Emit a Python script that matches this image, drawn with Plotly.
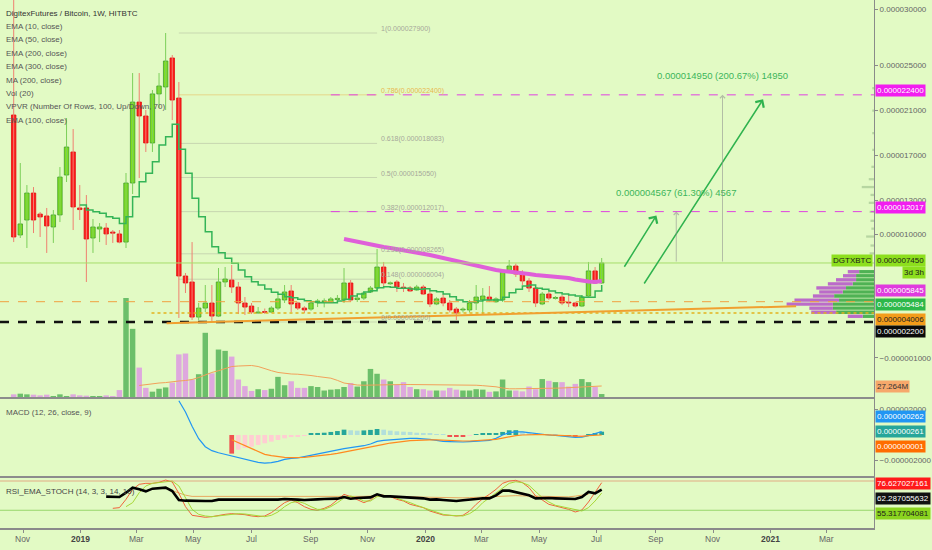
import pandas as pd
import plotly.graph_objects as go

FONT = "Liberation Sans, Arial, sans-serif"
BG = "#e2fac4"

# weekly DGTX/BTC bars, prices in units of 1e-6 BTC
weeks = pd.date_range("2018-10-22", periods=90, freq="7D")

open_ = [20.61, 9.94, 11.27, 13.67, 11.80, 11.63, 10.65, 11.72, 15.27, 17.32,
         12.34, 12.34, 9.67, 10.47, 10.56, 10.20, 10.03, 9.31, 14.56, 21.76,
         20.52, 18.12, 22.48, 23.10, 25.68, 22.12, 6.29, 5.76, 2.64, 3.44,
         3.89, 2.73, 5.76, 5.93, 5.31, 3.89, 3.62, 3.00, 3.09, 3.09,
         3.44, 4.16, 4.96, 3.89, 3.44, 3.35, 3.92, 4.00, 3.98, 4.20,
         4.16, 5.67, 4.20, 4.33, 4.87, 5.22, 7.09, 5.60, 5.76, 5.30,
         5.22, 5.05, 5.31, 4.69, 3.80, 4.33, 3.89, 3.35, 3.27, 3.27,
         3.89, 4.16, 4.42, 4.00, 4.16, 6.65, 7.18, 6.56, 5.85, 5.22,
         3.80, 4.69, 4.30, 4.42, 3.95, 3.89, 3.62, 4.51, 6.74, 5.67]
high = [31.50, 16.34, 14.38, 14.20, 11.98, 12.34, 12.16, 15.98, 20.34, 19.36,
        14.38, 13.49, 11.36, 11.00, 11.00, 10.38, 10.38, 15.45, 24.34, 24.34,
        21.05, 22.83, 24.34, 27.90, 25.94, 23.54, 6.56, 9.31, 3.89, 5.49,
        5.49, 7.00, 7.09, 7.27, 5.76, 4.42, 3.89, 3.53, 3.40, 3.60,
        4.60, 5.49, 5.49, 4.00, 3.60, 4.07, 4.25, 4.30, 4.42, 4.60,
        7.00, 5.93, 4.60, 4.90, 5.40, 8.69, 7.54, 5.80, 5.93, 5.67,
        5.40, 5.50, 5.50, 4.96, 4.40, 4.70, 4.16, 3.53, 3.50, 4.16,
        5.49, 5.22, 5.40, 4.40, 6.82, 7.71, 7.40, 6.80, 6.10, 5.31,
        4.87, 4.87, 4.50, 4.60, 4.60, 4.00, 4.60, 7.54, 7.09, 7.89]
low = [9.31, 9.67, 8.78, 10.11, 9.76, 8.34, 9.23, 11.09, 14.65, 10.38,
       11.27, 5.76, 8.34, 9.31, 9.05, 9.23, 9.20, 8.78, 13.58, 15.00,
       17.32, 17.32, 21.23, 21.05, 20.16, 2.56, 4.78, 2.38, 2.38, 3.09,
       2.20, 2.64, 5.31, 4.78, 2.91, 2.82, 2.91, 2.95, 2.92, 3.00,
       3.27, 3.89, 3.09, 3.27, 3.00, 3.20, 3.53, 3.50, 3.89, 4.00,
       3.89, 3.98, 3.98, 4.16, 4.78, 5.05, 5.31, 5.50, 4.87, 4.87,
       4.87, 4.96, 4.60, 3.53, 3.70, 3.60, 3.05, 2.38, 3.05, 3.05,
       3.27, 2.82, 4.00, 3.90, 3.98, 6.56, 6.20, 5.49, 4.87, 3.53,
       3.70, 4.16, 4.20, 3.70, 3.53, 3.50, 3.53, 4.42, 5.60, 5.60]
close = [9.76, 10.92, 13.67, 11.27, 11.54, 10.74, 11.72, 15.09, 17.76, 12.43,
         12.20, 9.58, 10.65, 10.65, 10.03, 10.10, 9.31, 14.56, 21.76, 20.52,
         18.12, 22.48, 23.19, 25.41, 21.94, 6.29, 5.67, 2.64, 3.44, 3.89,
         2.73, 5.76, 6.02, 5.31, 3.89, 3.53, 3.09, 3.09, 3.05, 3.44,
         4.25, 4.87, 3.80, 3.44, 3.27, 3.89, 4.07, 4.07, 4.25, 4.30,
         5.67, 4.16, 4.33, 4.78, 5.22, 7.09, 5.67, 5.67, 5.31, 5.22,
         4.96, 5.31, 4.69, 3.80, 4.25, 3.89, 3.27, 3.00, 3.30, 3.89,
         4.42, 4.51, 4.16, 4.25, 6.65, 7.18, 6.47, 5.85, 5.22, 3.89,
         4.69, 4.33, 4.36, 3.89, 3.89, 3.62, 4.42, 6.74, 5.67, 7.45]

# volume in millions, and its 20-bar average (starts at bar 20)
volume = [8.3, 9.8, 8.3, 7.6, 6.0, 7.6, 4.5, 8.3, 4.5, 8.3,
          6.0, 5.3, 4.5, 4.5, 6.0, 2.3, 18, 227, 157, 69,
          23, 14.4, 21, 24, 35, 99, 101, 42, 54, 148,
          56, 110, 107, 94, 42, 27, 16, 20, 18, 21,
          48, 29, 38, 23, 23, 27, 25, 17, 19, 20,
          25, 34, 26, 38, 66, 55, 42, 38, 30, 36,
          25, 20, 20, 17, 17, 17, 23, 19, 17, 17,
          20, 19, 14, 15, 42, 17, 17, 15, 26, 20,
          43, 39, 36, 36, 26, 32, 43, 36, 25, 9]
vol_ma = [28.4, 30.6, 33, 34, 35, 37.5, 38.6, 39.7, 42, 46.5,
          53, 58, 62, 67, 71.5, 72.6, 73.8, 73.8, 71.5, 66,
          62, 58, 55.6, 54.5, 54, 53, 51, 48.8, 47, 45,
          40, 34, 31.8, 29.5, 29, 29.5, 29.5, 30.6, 30.6, 30.6,
          30.6, 30.6, 30.6, 30.6, 30.6, 30.6, 30.6, 30.6, 30.6, 30.4,
          30, 29, 28, 27, 25.4, 22.7, 20.9, 20.9, 20.9, 20.9,
          21.3, 21.8, 22, 22.3, 22.7, 23.2, 24, 24.5, 25.4, 26.3, 27.26]

# green step EMA (from bar 11) and pink MA (from bar 51)
ema_step = [12.60, 12.16, 12.01, 11.87, 11.56, 11.42, 10.97, 11.56, 13.34, 14.68,
            15.42, 16.46, 17.94, 18.68, 19.78, 17.56, 15.42, 13.20, 11.56, 10.23,
            8.90, 8.36, 7.86, 7.42, 6.82, 6.23, 5.78, 5.49, 5.13, 4.84,
            4.66, 4.45, 4.36, 4.22, 4.09, 4.01, 3.92, 3.92, 3.92, 4.07,
            4.22, 4.51, 4.69, 4.87, 4.98, 5.25, 5.34, 5.29, 5.20, 5.20,
            5.13, 5.11, 5.16, 4.98, 4.89, 4.69, 4.45, 4.16, 4.01, 3.98,
            4.07, 4.16, 4.16, 4.16, 4.40, 4.81, 5.11, 5.40, 5.49, 5.20,
            5.11, 4.96, 4.81, 4.69, 4.60, 4.51, 4.40, 4.40, 4.96, 5.48]
ma_pink = [9.58, 9.45, 9.31, 9.18, 9.09, 9.00, 8.87, 8.78, 8.69, 8.60,
           8.51, 8.42, 8.29, 8.16, 8.03, 7.89, 7.76, 7.62, 7.49, 7.36,
           7.22, 7.09, 6.96, 6.82, 6.74, 6.65, 6.56, 6.51, 6.47, 6.38,
           6.34, 6.29, 6.25, 6.20, 6.11, 5.98, 5.85, 5.80, 5.76, 5.85]

# MACD (from bar 26), signal and histogram (from bar 34)
macd = [2.69, 1.80, 0.68, -0.29, -0.92, -1.23, -1.39, -1.52, -1.65, -1.78,
        -1.91, -2.04, -2.14, -2.20, -2.17, -2.07, -1.91, -1.83, -1.80, -1.70,
        -1.59, -1.49, -1.39, -1.28, -1.20, -1.07, -0.99, -0.92, -0.84, -0.71,
        -0.50, -0.42, -0.37, -0.31, -0.29, -0.26, -0.26, -0.29, -0.34, -0.42,
        -0.50, -0.52, -0.55, -0.55, -0.52, -0.50, -0.47, -0.42, -0.26, 0.00,
        0.18, 0.24, 0.24, 0.18, 0.08, 0.03, 0.00, -0.03, -0.08, -0.13,
        -0.18, -0.16, -0.05, 0.12, 0.26]
signal = [-0.37, -0.60, -0.86, -1.12, -1.33, -1.52, -1.62, -1.70, -1.75, -1.78,
          -1.78, -1.75, -1.70, -1.65, -1.59, -1.52, -1.44, -1.33, -1.23, -1.15,
          -1.05, -0.94, -0.84, -0.73, -0.63, -0.55, -0.50, -0.44, -0.42, -0.39,
          -0.39, -0.39, -0.42, -0.44, -0.47, -0.47, -0.47, -0.44, -0.42, -0.39,
          -0.34, -0.24, -0.13, -0.05, 0.00, 0.03, 0.03, 0.03, 0.00, -0.03,
          -0.05, -0.08, -0.10, -0.10, -0.05, -0.03, 0.00]
hist = [-1.46, -1.15, -1.02, -0.92, -0.78, -0.65, -0.52, -0.39, -0.26, -0.16,
        -0.08, -0.03, 0.13, 0.16, 0.18, 0.24, 0.31, 0.42, 0.37, 0.34,
        0.36, 0.40, 0.47, 0.42, 0.34, 0.29, 0.26, 0.24, 0.18, 0.16,
        0.10, 0.05, 0.03, -0.08, -0.10, -0.11, -0.03, 0.02, 0.08, 0.09,
        0.12, 0.24, 0.37, 0.38, 0.26, 0.16, 0.10, 0.05, 0.03, 0.01,
        -0.03, -0.05, -0.08, -0.03, 0.05, 0.10, 0.26]

# RSI_EMA_STOCH pane
rsi_line = [47.9, 47.9, 47.2, 56.1, 66.3, 62.9, 58.8, 64.3, 65.0, 66.3,
            59.5, 41.1, 39.7, 39.0, 39.0, 39.0, 39.0, 41.8, 41.8, 41.8,
            41.8, 41.1, 40.4, 40.4, 40.4, 41.1, 41.8, 43.1, 41.8, 41.8,
            41.1, 42.4, 42.4, 43.1, 43.8, 43.8, 47.2, 43.8, 45.2, 45.2,
            46.5, 52.7, 48.6, 48.6, 47.9, 47.2, 46.5, 45.9, 44.5, 41.8,
            42.4, 41.1, 39.7, 39.0, 40.4, 42.4, 43.1, 44.5, 44.5, 50.6,
            60.2, 60.2, 57.5, 54.7, 50.6, 44.5, 45.2, 45.2, 44.5, 44.5,
            43.1, 43.1, 47.2, 57.5, 54.7, 62.3]
stoch_k = [24.0, 25.4, 42.4, 62.9, 73.2, 75.2, 75.2, 77.3, 82.0, 78.0,
           54.7, 27.4, 9.7, 6.9, 5.6, 6.9, 9.7, 11.7, 13.1, 12.4,
           11.0, 8.3, 6.9, 8.3, 15.1, 25.4, 35.6, 41.1, 35.6, 27.4,
           21.9, 19.9, 24.0, 30.2, 41.1, 52.7, 47.9, 41.1, 35.6, 41.1,
           52.7, 50.6, 47.9, 42.4, 39.0, 32.2, 28.8, 25.4, 18.5, 13.8,
           10.3, 9.7, 8.3, 9.7, 18.5, 32.2, 43.8, 52.7, 62.9, 75.2,
           80.0, 81.4, 76.6, 66.4, 49.3, 41.1, 32.2, 28.8, 25.4, 21.9,
           16.5, 20.6, 37.0, 57.5, 76.6]
stoch_d = [27.4, 35.6, 56.1, 69.8, 75.2, 76.6, 78.0, 80.0, 69.8, 45.9,
           21.9, 11.7, 8.3, 6.9, 8.3, 10.3, 11.7, 13.1, 12.4, 10.3,
           8.3, 6.9, 9.7, 16.5, 27.4, 35.6, 38.3, 34.2, 27.4, 21.9,
           21.9, 27.4, 35.6, 45.2, 49.3, 45.2, 39.0, 39.0, 47.9, 50.6,
           49.3, 45.2, 41.1, 35.6, 30.2, 25.4, 21.9, 16.5, 11.7, 9.7,
           8.3, 8.3, 13.1, 21.9, 35.6, 45.9, 56.1, 66.3, 75.2, 78.6,
           76.6, 71.1, 59.5, 45.9, 37.0, 30.2, 27.4, 24.7, 20.6, 18.5,
           25.4, 39.0, 55.3]
rsi_avg = [60, 55, 51, 48.5, 48.5, 48, 48, 47.5, 47.5, 47.5,
           47.5, 47, 47, 47, 47, 47, 47.5, 47.5, 47.5, 47.5,
           47.5, 47.5, 47.5, 47.5, 47.5, 48, 48, 48, 48, 48.5,
           49, 49, 49, 49, 48.5, 48.5, 48, 47.5, 47, 46.5,
           46, 45.5, 45.5, 45.5, 45.5, 46, 46.5, 47, 48, 49.5,
           50, 50, 50, 49.5, 49, 48.5, 48, 47.5, 47, 47,
           47.5, 49, 51, 52.8]

# visible range volume profile rows (price, up vol, down vol)
vp_price = [6.67, 6.31, 5.95, 5.59, 5.23, 4.87, 4.51, 4.15, 3.79, 3.43, 3.07, 2.71]
vp_up = [1.7, 2.05, 2.05, 2.43, 3.2, 3.57, 4.56, 4.0, 4.7, 4.7, 4.33, 1.29]
vp_down = [1.3, 1.5, 2.3, 2.85, 3.4, 2.7, 2.43, 5.1, 5.3, 2.7, 2.85, 1.71]
vp_thin_price = [8.3, 9.0, 9.8, 10.5, 11.2, 12.0, 12.8, 13.5, 14.2, 14.9, 16.0, 17.5, 19.0, 21.0, 23.0]
vp_thin = [0.5, 0.4, 0.9, 0.3, 0.4, 0.5, 0.6, 0.4, 1.4, 0.6, 0.3, 0.2, 0.2, 0.2, 0.2]

fib_low, fib_high = 2.2, 27.9
fib_levels = [0, 0.148, 0.236, 0.382, 0.5, 0.618, 0.786, 1]
last_price = 7.45
target_1, target_2 = 12.017, 22.4
support_orange = 4.006
support_black = 2.2
dotted_level = 3.0

x_months = ["2018-11-01", "2019-01-01", "2019-03-01", "2019-05-01", "2019-07-01",
            "2019-09-01", "2019-11-01", "2020-01-01", "2020-03-01", "2020-05-01",
            "2020-07-01", "2020-09-01", "2020-11-01", "2021-01-01", "2021-03-01"]
x_labels = ["Nov", "<b>2019</b>", "Mar", "May", "Jul", "Sep", "Nov", "<b>2020</b>",
            "Mar", "May", "Jul", "Sep", "Nov", "<b>2021</b>", "Mar"]

X0, X1 = "2018-10-07 12:00", "2021-04-20 12:00"
DAY = 86400000
H = 528.0  # plot height in px
dom_main = [1 - 398 / H, 1]
dom_macd = [1 - 477 / H, 1 - 398 / H]
dom_rsi = [0, 1 - 477 / H]

up = [c >= o for o, c in zip(open_, close)]
fig = go.Figure()

# volume + average
fig.add_trace(go.Bar(x=weeks, y=volume, width=5.8 * DAY, yaxis="y4",
                     marker=dict(color=["#6cbf6a" if u else "#dea8de" for u in up], line_width=0)))
fig.add_trace(go.Scatter(x=weeks[19:], y=vol_ma, mode="lines", yaxis="y4",
                         line=dict(color="#f2a05a", width=1)))

# volume profile
fig.add_trace(go.Bar(y=vp_price, x=vp_up, base=0, orientation="h", width=0.3,
                     xaxis="x2", yaxis="y", marker=dict(color="#4fb254", line_width=0)))
fig.add_trace(go.Bar(y=vp_price, x=vp_down, base=vp_up, orientation="h", width=0.3,
                     xaxis="x2", yaxis="y", marker=dict(color="#bb6bc9", line_width=0)))
fig.add_trace(go.Bar(y=vp_thin_price, x=vp_thin, base=0, orientation="h", width=0.2,
                     xaxis="x2", yaxis="y", marker=dict(color="rgba(130,170,120,0.45)", line_width=0)))

# candle wicks
for flag, col in [(True, "#7ccf5a"), (False, "#ef8070")]:
    wx, wy = [], []
    for d, h, l, u in zip(weeks, high, low, up):
        if u == flag:
            wx += [d, d, None]
            wy += [l, h, None]
    fig.add_trace(go.Scatter(x=wx, y=wy, mode="lines", line=dict(color=col, width=1)))

# candle bodies
fig.add_trace(go.Bar(
    x=weeks, y=[max(abs(c - o), 0.08) for o, c in zip(open_, close)],
    base=[min(o, c) for o, c in zip(open_, close)], width=4.7 * DAY,
    marker=dict(color=["#80de1f" if u else "#fe1b1b" for u in up],
                line=dict(color=["#3f9e2c" if u else "#e01010" for u in up], width=0.8))))

fig.add_trace(go.Scatter(x=weeks[10:], y=ema_step, mode="lines", line_shape="hv",
                         line=dict(color="#34b457", width=1.5)))
fig.add_trace(go.Scatter(x=weeks[50:], y=ma_pink, mode="lines",
                         line=dict(color="#df5fd9", width=4)))

# MACD pane
hcol, prev = [], None
for h in hist:
    if h >= 0:
        hcol.append("#26a69a" if prev is None or h >= prev else "#b2dfdb")
    else:
        hcol.append("#ef5350" if prev is None or h < prev else "#ffcdd2")
    prev = h
fig.add_trace(go.Bar(x=weeks[33:], y=hist, width=5 * DAY, yaxis="y2",
                     marker=dict(color=hcol, line_width=0)))
fig.add_trace(go.Scatter(x=weeks[25:], y=macd, mode="lines", yaxis="y2",
                         line=dict(color="#2196f3", width=1.2)))
fig.add_trace(go.Scatter(x=weeks[33:], y=signal, mode="lines", yaxis="y2",
                         line=dict(color="#ff8a1f", width=1.2)))

# RSI pane
fig.add_trace(go.Scatter(x=weeks[24:], y=rsi_avg, mode="lines", yaxis="y3",
                         line=dict(color="#e8a860", width=1)))
fig.add_trace(go.Scatter(x=weeks[15:], y=stoch_k, mode="lines", yaxis="y3",
                         line=dict(color="#f0643c", width=1)))
fig.add_trace(go.Scatter(x=weeks[17:], y=stoch_d, mode="lines", yaxis="y3",
                         line=dict(color="#a8d838", width=1)))
fig.add_trace(go.Scatter(x=weeks[14:], y=rsi_line, mode="lines", yaxis="y3",
                         line=dict(color="#000000", width=2.6)))

shapes = []


def hline(y, x0, x1, color, width=1, dash="solid", yref="y", layer="above"):
    shapes.append(dict(type="line", xref="x", yref=yref, x0=x0, x1=x1, y0=y, y1=y,
                       line=dict(color=color, width=width, dash=dash), layer=layer))


annotations = []
for lvl in fib_levels:
    p = fib_low + lvl * (fib_high - fib_low)
    is786 = lvl == 0.786
    hline(p, weeks[25], weeks[55], "rgba(235,180,80,0.5)" if is786 else "rgba(150,150,140,0.35)",
          layer="below")
    annotations.append(dict(x=weeks[55], y=p, xref="x", yref="y", xanchor="left", yanchor="bottom",
                            xshift=2, yshift=-2, showarrow=False,
                            text=f"{lvl:g}({p * 1e-6:.9f})",
                            font=dict(family=FONT, size=7, color="#e8b84f" if is786 else "#a6a89a")))

hline(last_price, X0, X1, "#a6dd6a", 1)
hline(target_1, weeks[48], X1, "#e040e0", 1, "dash")
hline(target_2, weeks[48], X1, "#e040e0", 1, "dash")
hline(support_orange, X0, X1, "#f0a040", 1, "dash")
hline(dotted_level, "2019-03-17", X1, "#e3b21c", 1.5, "dot")
hline(support_black, X0, X1, "#111111", 2.5, "dash")
shapes.append(dict(type="line", xref="x", yref="y", x0="2019-04-02", x1="2021-01-28",
                   y0=2.1, y1=3.6, line=dict(color="#f0a030", width=2)))
hline(80, X0, X1, "rgba(225,120,90,0.6)", 1, yref="y3")
hline(20, X0, X1, "rgba(120,200,70,0.7)", 1, yref="y3")
for yy in [dom_main[0], dom_macd[0]]:
    shapes.append(dict(type="line", xref="paper", yref="paper", x0=0, x1=1, y0=yy, y1=yy,
                       line=dict(color="#8c8c8c", width=2)))

# projection arrows and measurements
GREEN = "#2fb34e"
for tip, tail in [(("2020-09-02", 11.67), ("2020-07-29", 6.98)),
                  (("2020-12-24", 22.0), ("2020-08-19", 5.49))]:
    annotations.append(dict(x=tip[0], y=tip[1], ax=tail[0], ay=tail[1], xref="x", yref="y",
                            axref="x", ayref="y", showarrow=True, arrowhead=4, arrowsize=1.3,
                            arrowwidth=1.5, arrowcolor=GREEN, text=""))
for d, tgt, txt in [("2020-09-23", target_1, "0.000004567 (61.30%) 4567"),
                    ("2020-11-11", target_2, "0.000014950 (200.67%) 14950")]:
    annotations.append(dict(x=d, y=tgt, ax=d, ay=last_price, xref="x", yref="y", axref="x",
                            ayref="y", showarrow=True, arrowhead=4, arrowsize=1, arrowwidth=1,
                            arrowcolor="rgba(140,140,140,0.55)", text=""))
    annotations.append(dict(x=d, y=tgt, xref="x", yref="y", yshift=19, showarrow=False, text=txt,
                            font=dict(family=FONT, size=9.5, color="#3cb55a")))


def ptext(txt, px, py, size=8, color="#555", anchor="left"):
    annotations.append(dict(x=px / 878, y=1 - py / H, xref="paper", yref="paper", xanchor=anchor,
                            yanchor="middle", showarrow=False, text=txt,
                            font=dict(family=FONT, size=size, color=color)))


ptext("DigitexFutures / Bitcoin, 1W, HITBTC", 4, 13, 8, "#333")
for i, s in enumerate(["EMA (10, close)", "EMA (50, close)", "EMA (200, close)", "EMA (300, close)",
                       "MA (200, close)", "Vol (20)", "VPVR (Number Of Rows, 100, Up/Down, 70)",
                       "EMA (100, close)"]):
    ptext(s, 4, 26.5 + 13.4 * i)
ptext("MACD (12, 26, close, 9)", 4, 412)
ptext("RSI_EMA_STOCH (14, 3, 3, 14, 10)", 4, 491, 8, "#444")

# time axis labels under the bottom pane
for d, lab in zip(x_months, x_labels):
    annotations.append(dict(x=d, y=-11 / H, xref="x", yref="paper", yanchor="middle",
                            showarrow=False, text=lab,
                            font=dict(family=FONT, size=8.5, color="#444" if "<b>" in lab else "#666")))


def tag(txt, py, bg, fg="#ffffff", px=879, anchor="left"):
    annotations.append(dict(x=px / 878, y=1 - py / H, xref="paper", yref="paper", xanchor=anchor,
                            yanchor="middle", showarrow=False, text=txt, bgcolor=bg, borderpad=1,
                            font=dict(family=FONT, size=8, color=fg)))


tag("0.000022400", 90.7, "#f21df0")
tag("0.000012017", 207, "#f21df0")
tag("DGTXBTC", 260.7, "#8ddf1e", "#1a1a1a", 877, "right")
tag("0.000007450", 260.7, "#8ddf1e", "#1a1a1a")
tag("3d 3h", 272.5, "#8ddf1e", "#1a1a1a", 930, "right")
tag("0.000005845", 290.7, "#e03ade")
tag("0.000005484", 304, "#2db84a")
tag("0.000004006", 319.3, "#f39c1a", "#222")
tag("0.000002200", 331.7, "#0a0a0a")
tag("27.264M", 386.7, "#f6a86b", "#333")
tag("0.000000262", 416.7, "#2196f3")
tag("0.000000261", 431.7, "#26a69a")
tag("0.000000001", 446.7, "#ff6d00")
tag("76.627027161", 483.3, "#ff1a1a")
tag("62.287055632", 498.3, "#111111")
tag("55.317704081", 513.3, "#8bd41f", "#1a1a1a")

price_ticks = [30, 25, 21, 17, 13, 10, -1]
macd_ticks = [2, -2]


def fmt(v):
    return f"{v * 1e-6:.9f}".replace("-", "\u2212")


axis_common = dict(side="right", anchor="x", showgrid=False, zeroline=False, showline=True,
                   linecolor="#8a8a8a", linewidth=1, ticks="outside", ticklen=3, tickcolor="#8a8a8a",
                   tickfont=dict(family=FONT, size=8, color="#666"))

fig.update_layout(
    width=932, height=550, margin=dict(l=0, r=54, t=0, b=22),
    paper_bgcolor=BG, plot_bgcolor=BG, showlegend=False, barmode="overlay",
    hovermode=False, shapes=shapes, annotations=annotations,
    xaxis=dict(type="date", range=[X0, X1], anchor="y3", showgrid=False, zeroline=False,
               showline=True, linecolor="#8a8a8a", linewidth=2, ticks="outside", ticklen=3,
               tickcolor="#8a8a8a", tickvals=x_months, showticklabels=False,
               rangeslider=dict(visible=False)),
    xaxis2=dict(overlaying="x", anchor="y", range=[100, 0], visible=False),
    yaxis=dict(domain=dom_main, range=[-4.558, 30.835], tickvals=price_ticks,
               ticktext=[fmt(v) for v in price_ticks], **axis_common),
    yaxis4=dict(overlaying="y", range=[0, 903.5], visible=False),
    yaxis2=dict(domain=dom_macd, range=[-3.294, 2.902], tickvals=macd_ticks,
                ticktext=[fmt(v) for v in macd_ticks], **axis_common),
    yaxis3=dict(domain=dom_rsi, range=[-16.3, 88.2], showticklabels=False,
                **{k: v for k, v in axis_common.items() if k not in ("ticks",)}),
)

fig.write_html("out.html", config={"displayModeBar": False},
               post_script="document.body.style.margin='0';document.body.style.overflow='hidden';")
